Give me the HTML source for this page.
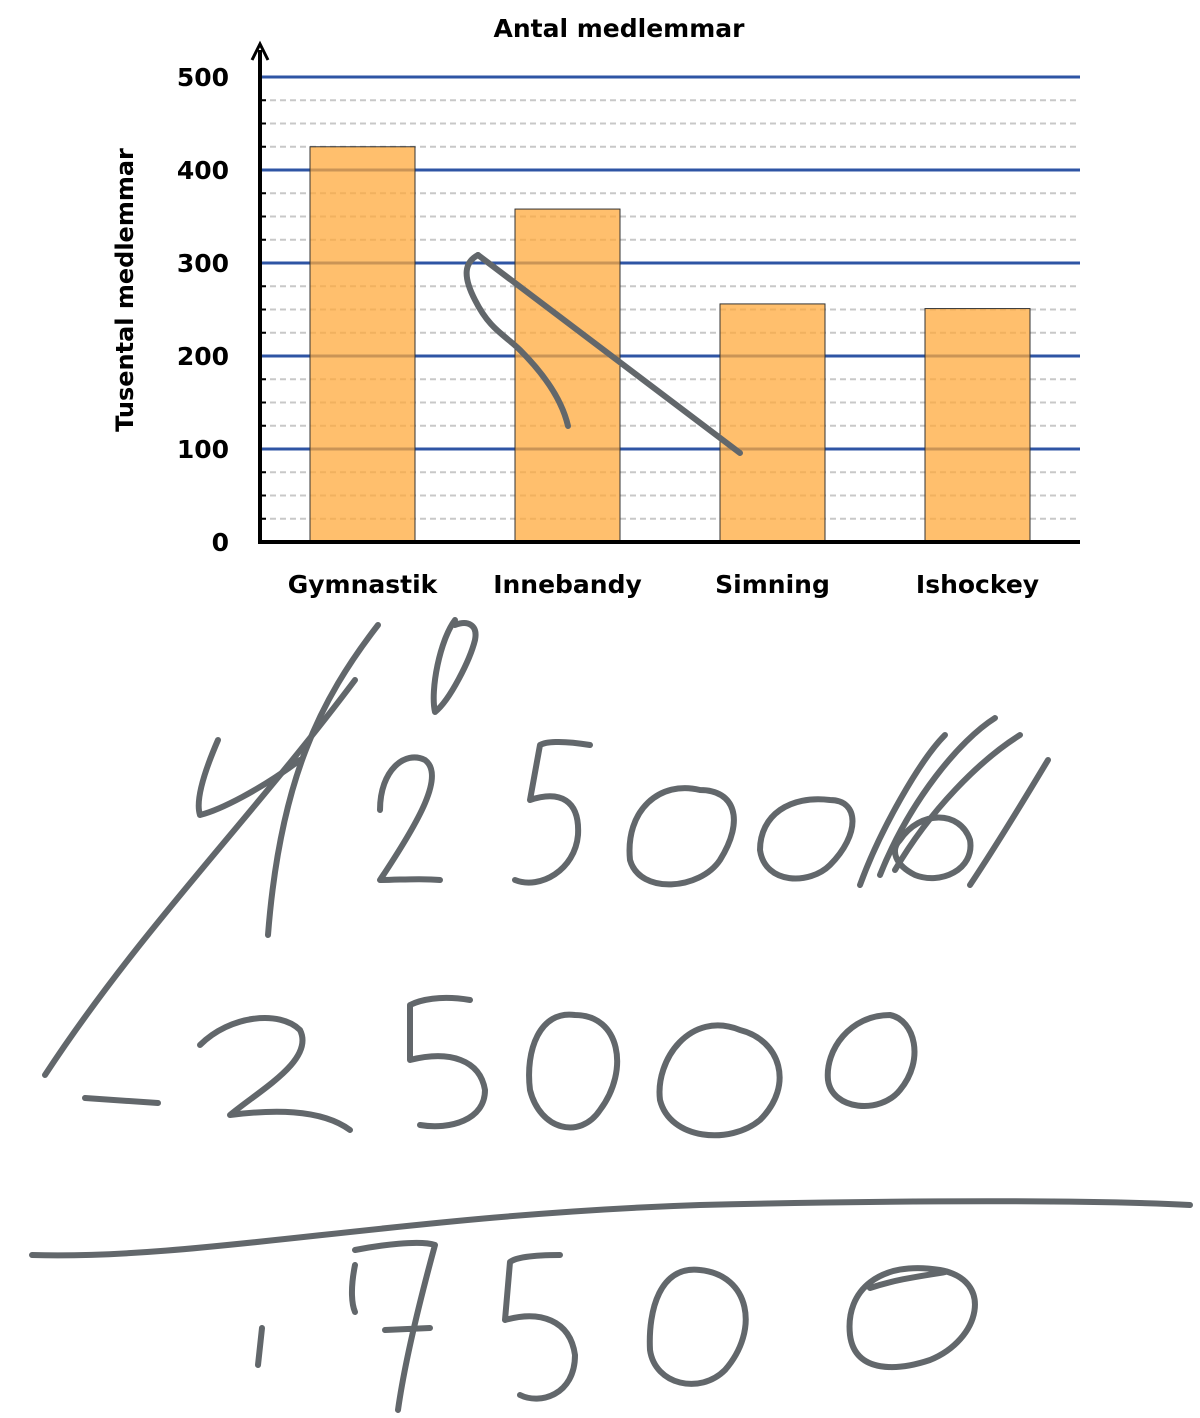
<!DOCTYPE html>
<html><head><meta charset="utf-8"><style>
body{margin:0;background:#fff;width:1200px;height:1418px;overflow:hidden}
svg{display:block}
text{font-family:"DejaVu Sans","Liberation Sans",sans-serif;font-weight:bold;fill:#000}
</style></head><body>
<svg id="chart" width="1200" height="1418" viewBox="0 0 1200 1418" xmlns="http://www.w3.org/2000/svg">
<text x="619" y="37" font-size="25" text-anchor="middle">Antal medlemmar</text>
<text transform="translate(133,290) rotate(-90)" font-size="24" text-anchor="middle">Tusental medlemmar</text>
<g id="grid"></g>
<g id="bars"></g>
<g id="axes"></g>
<g fill="none" stroke="#62676b" stroke-width="6" stroke-linecap="round" stroke-linejoin="round">
<path d="M478,255 L740,453"/>
<path d="M478,255 C465,262 462,275 475,300 C490,330 505,335 520,350 C545,375 562,400 568,426"/>
<path d="M218,740 C205,770 195,800 200,815 C220,810 260,790 300,760"/>
<path d="M378,625 C320,700 280,780 268,935"/>
<path d="M355,680 C250,820 140,930 45,1075"/>
<path d="M455,620 C440,640 430,690 435,712 C450,700 470,660 475,640 C478,625 468,620 455,625"/>
<path d="M380,810 C380,770 405,750 425,760 C445,775 420,820 380,880 C400,880 420,878 440,880"/>
<path d="M590,745 C560,740 545,742 540,745 L530,800 C560,790 580,800 578,835 C575,870 540,890 515,880"/>
<path d="M700,790 C660,780 625,810 630,860 C640,895 700,890 720,860 C745,820 735,790 700,790 Z"/>
<path d="M830,800 C790,795 760,815 760,850 C765,885 810,885 830,865 C860,835 860,800 830,800 Z"/>
<path d="M860,885 C880,830 920,760 945,735 M880,875 C910,800 960,740 995,718 M895,870 C930,810 980,760 1020,735 M970,885 C1000,840 1030,790 1048,760 M900,840 C920,810 960,810 970,840 C975,870 940,885 915,875 C895,865 890,850 900,840"/>
<path d="M85,1098 L158,1103"/>
<path d="M200,1045 C230,1015 280,1010 300,1030 C315,1060 260,1090 230,1115 C270,1110 320,1108 350,1130"/>
<path d="M470,1000 C440,995 420,1000 410,1005 L410,1060 C450,1050 480,1060 485,1090 C485,1120 450,1130 420,1125"/>
<path d="M575,1015 C540,1010 525,1050 530,1090 C540,1130 580,1140 600,1110 C630,1070 620,1015 575,1015 Z"/>
<path d="M740,1030 C690,1010 655,1060 660,1100 C670,1140 730,1145 760,1120 C795,1085 780,1040 740,1030 Z"/>
<path d="M890,1015 C850,1015 825,1050 828,1080 C832,1110 880,1115 900,1090 C925,1060 915,1020 890,1015 Z"/>
<path d="M32,1255 C200,1260 400,1215 700,1205 C900,1200 1100,1200 1190,1205"/>
<path d="M262,1328 L258,1365"/>
<path d="M355,1265 C350,1290 352,1305 355,1312 M355,1250 C380,1245 420,1240 435,1245 C420,1300 405,1360 398,1410 M385,1330 L430,1328"/>
<path d="M560,1255 C530,1255 515,1258 510,1262 L505,1320 C540,1310 570,1320 575,1355 C575,1395 540,1405 520,1395"/>
<path d="M700,1270 C660,1265 648,1310 650,1350 C655,1385 700,1395 725,1370 C760,1330 750,1275 700,1270 Z"/>
<path d="M940,1270 C880,1260 845,1290 850,1335 C855,1375 900,1370 930,1360 C980,1340 995,1280 940,1270 Z M870,1288 C900,1278 930,1275 945,1272"/>
</g>
</svg>
<script>
const categories=["Gymnastik","Innebandy","Simning","Ishockey"];
const values=[425,358,256,251];
const yTicks=[0,100,200,300,400,500];
const NS="http://www.w3.org/2000/svg";
const x0=260,x1=1080,yb=542,yt=77,yMax=500;
const y=v=>yb-(v/yMax)*(yb-yt);
const slot=(x1-x0)/categories.length;
function mk(t,a,p){const e=document.createElementNS(NS,t);for(const k in a)e.setAttribute(k,a[k]);p.appendChild(e);return e;}
const grid=document.getElementById('grid'),bars=document.getElementById('bars'),axes=document.getElementById('axes');
for(let v=25;v<yMax;v+=25){if(v%100===0)continue;
 const l=mk('line',{x1:x0,x2:x1,y1:y(v),y2:y(v),stroke:'#c8c8c8','stroke-width':2,'stroke-dasharray':'6,4'},grid);
 
 
 mk('line',{x1:x0,x2:x0+6,y1:y(v),y2:y(v),stroke:'#000','stroke-width':2},axes);}
yTicks.forEach(v=>{
 if(v>0){const l=mk('line',{x1:x0,x2:x1,y1:y(v),y2:y(v),stroke:'#2f55a4','stroke-width':3},grid);
 
 }
 const t=mk('text',{x:229,y:y(v)+9,'font-size':25,'text-anchor':'end'},axes);t.textContent=v;
 
 
});
categories.forEach((c,i)=>{
 const cx=x0+slot*(i+0.5),bw=105;
 const r=mk('rect',{x:cx-bw/2,y:y(values[i]),width:bw,height:yb-y(values[i]),fill:'rgba(255,170,60,0.75)',stroke:'#333','stroke-width':1},bars);
 
 
 const t=mk('text',{x:cx,y:593,'font-size':25,'text-anchor':'middle'},axes);t.textContent=c;
 
 
});
const ya=mk('line',{x1:x0,x2:x0,y1:yb+2,y2:50,stroke:'#000','stroke-width':4},axes);


const ar=mk('path',{d:`M${x0-8},60 L${x0},44 L${x0+8},60`,fill:'none',stroke:'#000','stroke-width':3},axes);


const xa=mk('line',{x1:x0-2,x2:x1,y1:yb,y2:yb,stroke:'#000','stroke-width':4},axes);


</script>
</body></html>
